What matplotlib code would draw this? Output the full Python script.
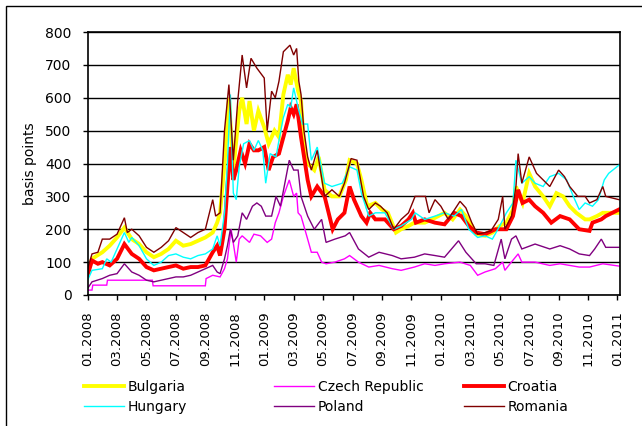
import matplotlib
matplotlib.use("Agg")
import matplotlib.pyplot as plt
from matplotlib.patches import Rectangle

# ---- data (x = months since 01.2008) ----
tick_labels = ["01.2008", "03.2008", "05.2008", "07.2008", "09.2008", "11.2008",
               "01.2009", "03.2009", "05.2009", "07.2009", "09.2009", "11.2009",
               "01.2010", "03.2010", "05.2010", "07.2010", "09.2010", "11.2010", "01.2011"]

romania_m = [0, 0.3, 0.7, 1.0, 1.5, 2.0, 2.5, 2.7, 3.0, 3.5, 4.0, 4.5, 5.0, 5.5, 6.0, 6.5, 7.0, 7.5, 8.0, 8.5,
             8.7, 9.0, 9.3, 9.6, 9.9, 10.2, 10.5, 10.8, 11.1, 11.5, 12.0, 12.2, 12.5, 12.75, 13.0, 13.3, 13.75,
             14.0, 14.2, 14.35, 14.5, 14.7, 14.95, 15.2, 15.6, 16.1, 16.6, 17.1, 17.45, 17.9, 18.3, 18.75, 19.1,
             19.55, 19.9, 20.35, 20.8, 21.3, 21.8, 22.25, 22.95, 23.2, 23.6, 24.0, 24.5, 25.3, 25.7, 26.1, 26.5,
             27.0, 27.4, 27.9, 28.2, 28.35, 28.8, 29.1, 29.25, 29.5, 30.0, 30.5, 30.95, 31.4, 32.0, 32.4, 32.75,
             33.3, 33.8, 34.1, 34.6, 35.0, 35.2, 36.1]
romania_v = [80, 125, 130, 170, 170, 185, 235, 190, 200, 180, 145, 130, 145, 165, 205, 190, 175, 190, 200, 290,
             240, 250, 500, 640, 410, 590, 730, 630, 720, 690, 660, 500, 620, 600, 650, 740, 760,
             730, 750, 650, 610, 500, 420, 380, 440, 300, 320, 300, 340, 415, 410, 300, 260,
             280, 270, 250, 200, 230, 250, 300, 300, 250, 290, 270, 230, 285, 265, 220, 185,
             190, 195, 230, 300, 200, 240, 330, 430, 340, 420, 370, 350, 330, 380, 360, 330,
             300, 300, 280, 290, 330, 300, 290]

bulgaria_m = [0, 0.3, 1.0, 1.5, 2.0, 2.5, 3.0, 3.5, 4.0, 4.5, 5.0, 5.5, 6.0, 6.5, 7.0, 7.5, 8.0, 8.5, 8.8, 9.0,
              9.3, 9.6, 9.9, 10.3, 10.5, 10.8, 11.0, 11.3, 11.6, 12.0, 12.3, 12.7, 13.0, 13.3, 13.6, 13.8, 14.0,
              14.3, 14.5, 14.7, 14.95, 15.4, 15.7, 16.1, 16.6, 17.1, 17.55, 17.8, 18.3, 18.6, 19.0, 19.55, 20.0,
              20.4, 20.95, 21.3, 21.8, 22.2, 22.9, 23.4, 24.25, 24.8, 25.3, 25.7, 26.1, 26.4, 27.0, 27.5, 28.0,
              28.45, 28.9, 29.1, 29.55, 30.0, 30.4, 30.95, 31.4, 31.85, 32.3, 32.75, 33.2, 33.8, 34.1, 34.6,
              35.0, 36.1]
bulgaria_v = [70, 110, 130, 150, 175, 205, 170, 155, 130, 115, 125, 140, 165, 150, 155, 165, 175, 190, 220, 250,
              400, 600, 380, 560, 600, 520, 590, 500, 560, 510, 460, 500, 480, 610, 670, 640, 690,
              620, 590, 450, 400, 380, 420, 320, 300, 300, 350, 410, 400, 350, 270, 280, 260,
              250, 190, 200, 210, 220, 220, 230, 250, 230, 260, 240, 210, 185, 180, 190, 210,
              220, 260, 330, 280, 370, 330, 300, 270, 310, 300, 270, 250, 230, 230, 240,
              250, 250]

croatia_m = [0, 0.3, 0.7, 1.0, 1.5, 2.0, 2.5, 3.0, 3.5, 4.0, 4.5, 5.0, 5.5, 6.0, 6.5, 7.0, 7.5, 8.0, 8.5, 8.8,
             9.0, 9.3, 9.5, 9.7, 9.9, 10.1, 10.4, 10.7, 11.0, 11.3, 11.6, 12.0, 12.3, 12.6, 13.0, 13.3, 13.6,
             13.8, 14.0, 14.2, 14.5, 14.95, 15.2, 15.6, 16.1, 16.65, 17.0, 17.45, 17.8, 18.1, 18.6, 18.95,
             19.2, 19.55, 20.2, 20.8, 21.3, 21.8, 22.1, 22.3, 22.9, 23.6, 24.25, 24.9, 25.4, 25.9, 26.4, 27.0,
             27.7, 28.45, 28.9, 29.25, 29.55, 30.0, 30.4, 30.95, 31.5, 32.1, 32.75, 33.4, 34.1, 34.3, 34.9,
             35.2, 36.1]
croatia_v = [60, 105, 95, 100, 90, 110, 155, 125, 110, 85, 75, 80, 85, 90, 80, 85, 85, 90, 130, 150,
             120, 200, 330, 450, 350, 380, 440, 400, 460, 440, 440, 450, 380, 420, 430, 480, 530,
             570, 550, 580, 480, 350, 300, 330, 300, 200, 230, 250, 330, 290, 240, 220,
             250, 230, 230, 200, 210, 230, 250, 220, 230, 220, 215, 250, 240, 210, 190, 185,
             200, 200, 240, 320, 280, 290, 270, 250, 220, 240, 230, 200, 195, 220, 230,
             240, 260]

hungary_m = [0, 0.3, 1.0, 1.3, 1.6, 2.0, 2.5, 2.8, 3.0, 3.5, 4.0, 4.5, 5.0, 5.5, 6.0, 6.5, 7.0, 7.5, 8.0, 8.5,
             8.8, 9.0, 9.3, 9.5, 9.7, 9.9, 10.1, 10.3, 10.6, 11.0, 11.3, 11.6, 11.9, 12.1, 12.4, 12.8, 13.0,
             13.3, 13.6, 13.8, 14.0, 14.3, 14.6, 14.95, 15.2, 15.6, 16.1, 16.6, 17.3, 17.8, 18.3, 18.6, 19.1,
             19.55, 20.2, 20.8, 21.3, 22.0, 22.25, 22.9, 23.6, 24.25, 24.9, 25.4, 25.9, 26.5, 27.0, 27.5, 28.0,
             28.45, 28.9, 29.1, 29.5, 30.0, 30.4, 30.95, 31.4, 32.0, 32.55, 33.0, 33.4, 33.8, 34.3, 34.7,
             35.1, 35.4, 36.1]
hungary_v = [45, 75, 80, 110, 100, 140, 190, 160, 175, 150, 110, 90, 100, 120, 125, 115, 110, 120, 125, 140,
             180, 150, 250, 400, 610, 310, 290, 390, 460, 470, 440, 470, 440, 340, 430, 420, 470,
             540, 580, 570, 630, 570, 520, 520, 410, 450, 340, 330, 340, 390, 380, 310, 240,
             250, 250, 200, 210, 230, 250, 230, 240, 250, 240, 260, 200, 175, 180, 170, 210,
             250, 280, 410, 340, 360, 340, 330, 360, 370, 350, 300, 260, 280, 270, 290,
             350, 370, 395]

poland_m = [0, 0.3, 1.0, 1.5, 2.0, 2.5, 3.0, 3.5, 4.0, 4.5, 5.0, 5.5, 6.0, 6.5, 7.0, 7.5, 8.0, 8.5, 8.8, 9.0,
            9.3, 9.5, 9.7, 9.9, 10.2, 10.5, 10.8, 11.2, 11.5, 11.8, 12.1, 12.5, 12.8, 13.1, 13.4, 13.7, 14.0,
            14.3, 14.5, 14.95, 15.4, 15.9, 16.2, 16.8, 17.5, 17.8, 18.4, 19.1, 19.8, 20.7, 21.3, 22.2, 22.9,
            23.6, 24.25, 25.2, 25.7, 26.4, 27.0, 27.6, 28.1, 28.35, 28.8, 29.1, 29.5, 30.4, 31.4, 32.1, 32.75,
            33.4, 34.1, 34.45, 34.9, 35.2, 36.1]
poland_v = [20, 40, 50, 60, 65, 95, 70, 60, 45, 40, 45, 50, 55, 55, 60, 70, 80, 90, 70, 65,
            110, 150, 200, 160, 180, 250, 230, 270, 280, 270, 240, 240, 300, 270, 340, 410, 380,
            380, 300, 240, 200, 230, 160, 170, 180, 190, 140, 115, 130, 120, 110, 115, 125,
            120, 115, 165, 130, 95, 95, 90, 170, 110, 170, 180, 140, 155, 140, 150, 140,
            125, 120, 140, 170, 145, 145]

czech_m = [0, 0.3, 0.35, 1.3, 1.35, 4.4, 4.45, 8.0, 8.05, 8.5, 9.0, 9.3, 9.5, 9.75, 10.1, 10.3, 10.5, 11.0,
           11.3, 11.75, 12.2, 12.5, 12.75, 13.0, 13.3, 13.7, 14.0, 14.2, 14.3, 14.5, 14.95, 15.2, 15.6, 15.9,
           16.2, 16.8, 17.45, 17.8, 18.4, 19.1, 19.8, 20.7, 21.3, 22.2, 22.9, 23.6, 24.25, 25.3, 26.0, 26.5,
           27.0, 27.7, 28.2, 28.35, 28.7, 29.25, 29.5, 30.4, 31.4, 32.1, 32.75, 33.4, 34.1, 35.0, 36.1]
czech_v = [15, 15, 30, 30, 45, 45, 28, 28, 50, 60, 55, 80, 110, 200, 100, 170, 180, 160,
           185, 180, 160, 170, 220, 250, 300, 350, 300, 310, 250, 240, 170, 130, 130, 100,
           95, 100, 110, 120, 100, 85, 90, 80, 75, 85, 95, 90, 95, 100, 90, 60,
           70, 80, 100, 75, 95, 125, 100, 100, 90, 95, 90, 85, 85, 95, 88]

W, H = 642, 426
fig = plt.figure(figsize=(W / 100, H / 100), dpi=100)
plt.rcParams['font.family'] = ['DejaVu Sans']

ax = fig.add_axes([87.6 / W, 1 - 295 / H, (620 - 87.6) / W, (295 - 32) / H])

series = [
    ("Bulgaria", bulgaria_m, bulgaria_v, "#FFFF00", 2.8),
    ("Czech Republic", czech_m, czech_v, "#FF00FF", 1.0),
    ("Croatia", croatia_m, croatia_v, "#FF0000", 2.8),
    ("Hungary", hungary_m, hungary_v, "#00FFFF", 1.0),
    ("Poland", poland_m, poland_v, "#800080", 1.0),
    ("Romania", romania_m, romania_v, "#800000", 1.0),
]
lines = []
for name, m, v, c, lw in series:
    ln, = ax.plot(m, v, color=c, lw=lw, label=name, solid_joinstyle="miter")
    lines.append(ln)

ax.set_xlim(0, 36.17)
ax.set_ylim(0, 800)
ax.set_yticks(range(0, 801, 100))
ax.set_xticks(range(0, 37, 2))
ax.set_xticklabels(tick_labels, rotation=90, fontsize=9.5)
ax.tick_params(axis="y", labelsize=10, length=3.6, direction="out", width=1, pad=8)
ax.tick_params(axis="x", length=3.6, direction="out", width=1, pad=8)
ax.grid(axis="y", color="black", lw=1)
ax.set_axisbelow(True)
for s in ax.spines.values():
    s.set_linewidth(1.2)
ax.set_ylabel("basis points", fontsize=10, labelpad=6)

# legend: three columns of two entries
col_x = [84, 274, 464]
for i, x in enumerate(col_x):
    hs = [lines[i], lines[i + 3]]
    fig.legend(hs, [h.get_label() for h in hs], loc="upper left",
               bbox_to_anchor=(x / W, 1 - 380 / H), frameon=False, fontsize=10,
               handlelength=2.85, handletextpad=0.3, labelspacing=0.45,
               borderpad=0, borderaxespad=0)

# figure border
fig.patches.append(Rectangle((6 / W, -0.1), 1.2, 1 - 6 / H + 0.1, transform=fig.transFigure,
                             fill=False, edgecolor="black", lw=1))

fig.savefig("out.png", dpi=100)
